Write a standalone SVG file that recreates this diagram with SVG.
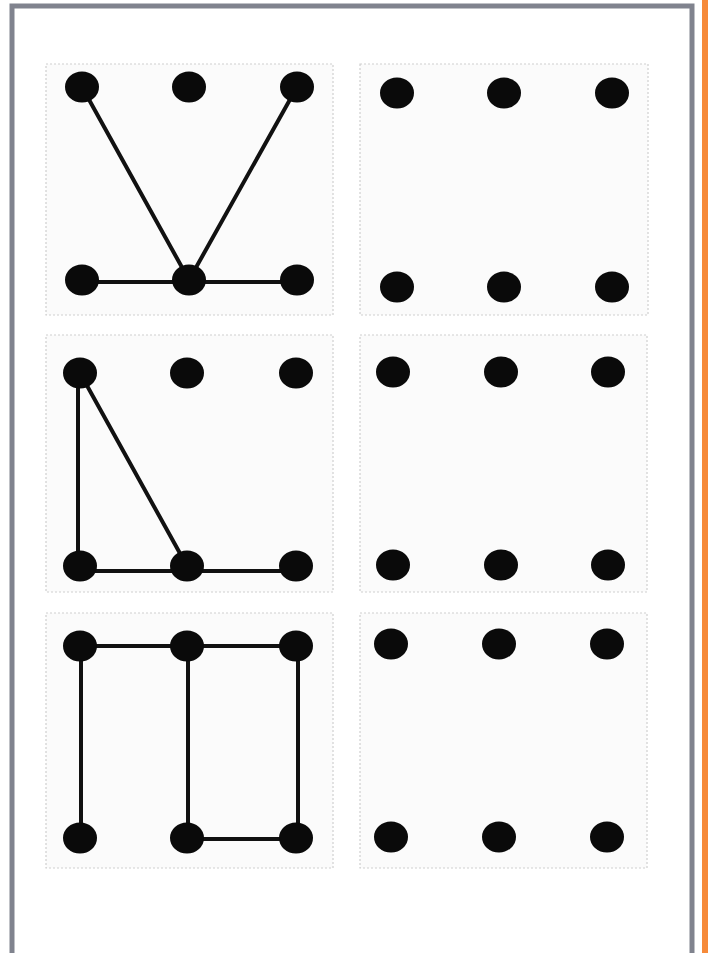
<svg xmlns="http://www.w3.org/2000/svg" width="708" height="953" viewBox="0 0 708 953">
<style>
.panel{fill:#fbfbfb;stroke:#cfcfcf;stroke-width:1.2;stroke-dasharray:2 2}
.dot{fill:#0a0a0a}
.edge{stroke:#111;stroke-width:4;fill:none;stroke-linecap:round}
</style>
<rect x="0" y="0" width="708" height="953" fill="#ffffff"/>
<path d="M12,953 V6 H692 V953" fill="none" stroke="#80838e" stroke-width="5"/>
<rect x="702" y="0" width="6" height="953" fill="#f68a3a"/>
<g id="panels">
<rect class="panel" x="46" y="64" width="287" height="251"/>
<rect class="panel" x="360" y="64" width="288" height="251"/>
<rect class="panel" x="46" y="335" width="287" height="257"/>
<rect class="panel" x="360" y="335" width="287" height="257"/>
<rect class="panel" x="46" y="613" width="287" height="255"/>
<rect class="panel" x="360" y="613" width="287" height="255"/>
</g>
<g id="connectors">
<line class="edge" x1="82" y1="87" x2="189" y2="280"/>
<line class="edge" x1="297" y1="87" x2="189" y2="280"/>
<line class="edge" x1="82" y1="282" x2="297" y2="282"/>
<line class="edge" x1="78" y1="373" x2="78" y2="568"/>
<line class="edge" x1="80" y1="373" x2="187" y2="566"/>
<line class="edge" x1="80" y1="571" x2="296" y2="571"/>
<line class="edge" x1="80" y1="646" x2="296" y2="646"/>
<line class="edge" x1="81" y1="646" x2="81" y2="838"/>
<line class="edge" x1="188" y1="646" x2="188" y2="838"/>
<line class="edge" x1="298" y1="646" x2="298" y2="838"/>
<line class="edge" x1="187" y1="839" x2="296" y2="839"/>
</g>
<g id="grid1">
<ellipse class="dot" cx="82" cy="87" rx="17" ry="15.5"/>
<ellipse class="dot" cx="189" cy="87" rx="17" ry="15.5"/>
<ellipse class="dot" cx="297" cy="87" rx="17" ry="15.5"/>
<ellipse class="dot" cx="82" cy="280" rx="17" ry="15.5"/>
<ellipse class="dot" cx="189" cy="280" rx="17" ry="15.5"/>
<ellipse class="dot" cx="297" cy="280" rx="17" ry="15.5"/>
</g>
<g id="grid2">
<ellipse class="dot" cx="397" cy="93" rx="17" ry="15.5"/>
<ellipse class="dot" cx="504" cy="93" rx="17" ry="15.5"/>
<ellipse class="dot" cx="612" cy="93" rx="17" ry="15.5"/>
<ellipse class="dot" cx="397" cy="287" rx="17" ry="15.5"/>
<ellipse class="dot" cx="504" cy="287" rx="17" ry="15.5"/>
<ellipse class="dot" cx="612" cy="287" rx="17" ry="15.5"/>
</g>
<g id="grid3">
<ellipse class="dot" cx="80" cy="373" rx="17" ry="15.5"/>
<ellipse class="dot" cx="187" cy="373" rx="17" ry="15.5"/>
<ellipse class="dot" cx="296" cy="373" rx="17" ry="15.5"/>
<ellipse class="dot" cx="80" cy="566" rx="17" ry="15.5"/>
<ellipse class="dot" cx="187" cy="566" rx="17" ry="15.5"/>
<ellipse class="dot" cx="296" cy="566" rx="17" ry="15.5"/>
</g>
<g id="grid4">
<ellipse class="dot" cx="393" cy="372" rx="17" ry="15.5"/>
<ellipse class="dot" cx="501" cy="372" rx="17" ry="15.5"/>
<ellipse class="dot" cx="608" cy="372" rx="17" ry="15.5"/>
<ellipse class="dot" cx="393" cy="565" rx="17" ry="15.5"/>
<ellipse class="dot" cx="501" cy="565" rx="17" ry="15.5"/>
<ellipse class="dot" cx="608" cy="565" rx="17" ry="15.5"/>
</g>
<g id="grid5">
<ellipse class="dot" cx="80" cy="646" rx="17" ry="15.5"/>
<ellipse class="dot" cx="187" cy="646" rx="17" ry="15.5"/>
<ellipse class="dot" cx="296" cy="646" rx="17" ry="15.5"/>
<ellipse class="dot" cx="80" cy="838" rx="17" ry="15.5"/>
<ellipse class="dot" cx="187" cy="838" rx="17" ry="15.5"/>
<ellipse class="dot" cx="296" cy="838" rx="17" ry="15.5"/>
</g>
<g id="grid6">
<ellipse class="dot" cx="391" cy="644" rx="17" ry="15.5"/>
<ellipse class="dot" cx="499" cy="644" rx="17" ry="15.5"/>
<ellipse class="dot" cx="607" cy="644" rx="17" ry="15.5"/>
<ellipse class="dot" cx="391" cy="837" rx="17" ry="15.5"/>
<ellipse class="dot" cx="499" cy="837" rx="17" ry="15.5"/>
<ellipse class="dot" cx="607" cy="837" rx="17" ry="15.5"/>
</g>
</svg>
